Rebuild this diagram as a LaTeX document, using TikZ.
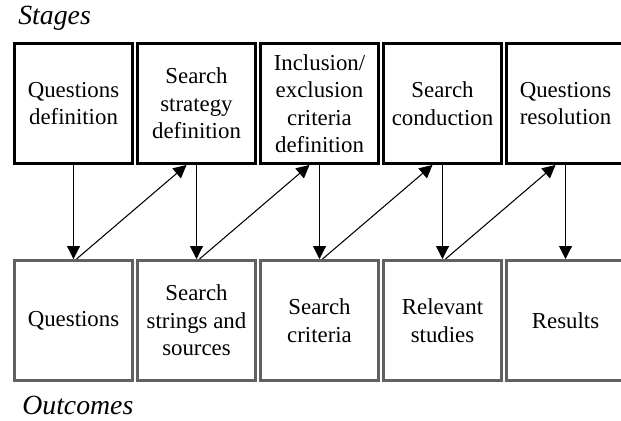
\documentclass[tikz,border=0pt]{standalone}
\usepackage{fontspec}
\setmainfont{Liberation Serif}
\usetikzlibrary{arrows.meta}

\begin{document}
\begin{tikzpicture}[x=0.02cm,y=-0.02cm,
  stagebox/.style={draw=black,line width=1.7pt,minimum width=2.36cm,minimum height=2.4cm,
    align=center,font=\fontsize{13}{15.6}\selectfont},
  outbox/.style={stagebox,draw=black!62},
  arr/.style={draw=black,line width=0.6pt,-{Triangle[width=0.26cm,length=0.26cm]}},
  caption/.style={anchor=base west,font=\fontsize{15.8}{19}\selectfont\itshape}]
\tikzstyle{every node}+=[inner sep=0pt]
\useasboundingbox (0,0) rectangle (621,421);
% stages
\node [caption] (stg) at (18,25) {Stages};
\node [stagebox] (s1) at (73.5,103.5) {Questions\\definition};
\node [stagebox] (s2) at (196.5,103.5) {Search\\strategy\\definition};
\node [stagebox] (s3) at (319.5,103.5) {Inclusion/\\exclusion\\criteria\\definition};
\node [stagebox] (s4) at (442.5,103.5) {Search\\conduction};
\node [stagebox] (s5) at (565.5,103.5) {Questions\\resolution};
% outcomes
\node [outbox] (o1) at (73.5,320.5) {Questions};
\node [outbox] (o2) at (196.5,320.5) {Search\\strings and\\sources};
\node [outbox] (o3) at (319.5,320.5) {Search\\criteria};
\node [outbox] (o4) at (442.5,320.5) {Relevant\\studies};
\node [outbox] (o5) at (565.5,320.5) {Results};
\node [caption] (out) at (22,415) {Outcomes};
% arrows
\foreach \i in {1,...,5}
  \draw [arr] (s\i.south) -- (o\i.north);
\foreach \i/\j in {1/2,2/3,3/4,4/5}
  \draw [arr] ([xshift=0.06cm]o\i.north) -- ([xshift=-0.2cm]s\j.south);
\end{tikzpicture}
\end{document}
